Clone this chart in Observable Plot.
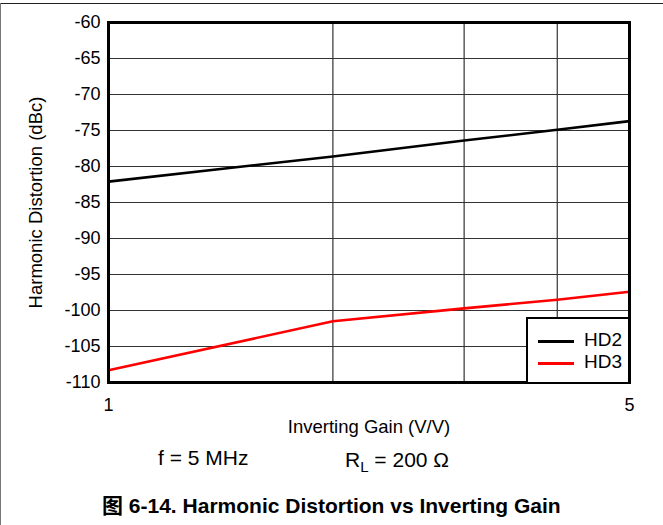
<!DOCTYPE html>
<html>
<head>
<meta charset="utf-8">
<script src="https://cdn.jsdelivr.net/npm/d3@7"></script>
<script src="https://cdn.jsdelivr.net/npm/@observablehq/plot@0.6"></script>
<style>
  html, body { margin: 0; padding: 0; background: #fff; }
  body { width: 663px; height: 525px; position: relative; overflow: hidden; font-family: Arial, "Liberation Sans", sans-serif; }
  #pageTop { position: absolute; left: 0; top: 3px; width: 663px; height: 1px; background: #222; }
  #pageLeft { position: absolute; left: 0; top: 3px; width: 1px; height: 522px; background: #777; }
  #chart { position: absolute; left: 0; top: 0; }
  #chart svg g[aria-label="y-axis tick label"] text, #chart svg g[aria-label="x-axis tick label"] text { font-size: 18px !important; }
  #chart svg g[aria-label="y-axis label"] text, #chart svg g[aria-label="x-axis label"] text { font-size: 18.5px !important; }
  .note { position: absolute; font-size: 21px; color: #000; white-space: nowrap; }
  #legend { position: absolute; left: 526px; top: 317px; width: 100px; height: 63px; border: 2px solid #000; border-right: none; border-bottom: none; background: #fff; }
  .lg { position: absolute; left: 10px; font-size: 19px; }
  .lg span.sw { position: absolute; left: 0; width: 36px; height: 3px; }
  .lg span.tx { position: absolute; left: 46px; top: -11px; }
  #title { position: absolute; left: 102px; top: 489px; font-size: 21px; font-weight: bold; white-space: nowrap; font-family: Arial, "Liberation Sans", "Noto Sans CJK SC", sans-serif; }
</style>
</head>
<body>
<div id="pageTop"></div>
<div id="pageLeft"></div>
<div id="chart"></div>
<div id="legend"></div>
<div class="note" style="left:158px; top:446px;">f = 5 MHz</div>
<div class="note" style="left:345px; top:448px;">R<sub style="font-size:15px; vertical-align:-5px;">L</sub> = 200 Ω</div>
<div id="title">图 6-14. Harmonic Distortion vs Inverting Gain</div>
<script>
const gains = [1, 2, 3, 4, 5];
const hd2 = [-82.1, -78.6, -76.4, -74.9, -73.7];
const hd3 = [-108.3, -101.5, -99.7, -98.5, -97.4];
const seriesNames = ["HD2", "HD3"];
const seriesColors = ["#000000", "#ff0000"];
const yTicks = [-60, -65, -70, -75, -80, -85, -90, -95, -100, -105, -110];
const xTicks = [1, 5];
const xGrid = [2, 3, 4];

const data = [];
gains.forEach((g, i) => {
  data.push({gain: g, value: hd2[i], series: seriesNames[0]});
  data.push({gain: g, value: hd3[i], series: seriesNames[1]});
});

const plot = Plot.plot({
  width: 663,
  height: 440,
  marginTop: 22,
  marginBottom: 58,
  marginLeft: 108,
  marginRight: 34,
  style: {fontFamily: 'Arial, "Liberation Sans", sans-serif', fontSize: "18px", color: "#000", background: "transparent"},
  x: {type: "log", domain: [1, 5], ticks: xTicks, tickFormat: d => String(d), tickSize: 0, tickPadding: 16,
      label: "Inverting Gain (V/V)", labelAnchor: "center", labelArrow: "none", labelOffset: 50},
  y: {domain: [-110, -60], ticks: yTicks, tickFormat: d => String(d), tickSize: 0, tickPadding: 8,
      label: "Harmonic Distortion (dBc)", labelAnchor: "center", labelArrow: "none", labelOffset: 80},
  color: {domain: seriesNames, range: seriesColors},
  marks: [
    Plot.ruleY(yTicks, {stroke: "#333", strokeWidth: 1.2}),
    Plot.ruleX(xGrid, {stroke: "#333", strokeWidth: 1.2}),
    Plot.line(data, {x: "gain", y: "value", z: "series", stroke: "series", strokeWidth: 2.6}),
    Plot.frame({stroke: "#000", strokeWidth: 3})
  ]
});
document.getElementById("chart").appendChild(plot);

const legend = document.getElementById("legend");
seriesNames.forEach((name, i) => {
  const row = document.createElement("div");
  row.className = "lg";
  row.style.top = (21 + i * 22) + "px";
  row.innerHTML = `<span class="sw" style="background:${seriesColors[i]}"></span><span class="tx">${name}</span>`;
  legend.appendChild(row);
});
</script>
</body>
</html>
